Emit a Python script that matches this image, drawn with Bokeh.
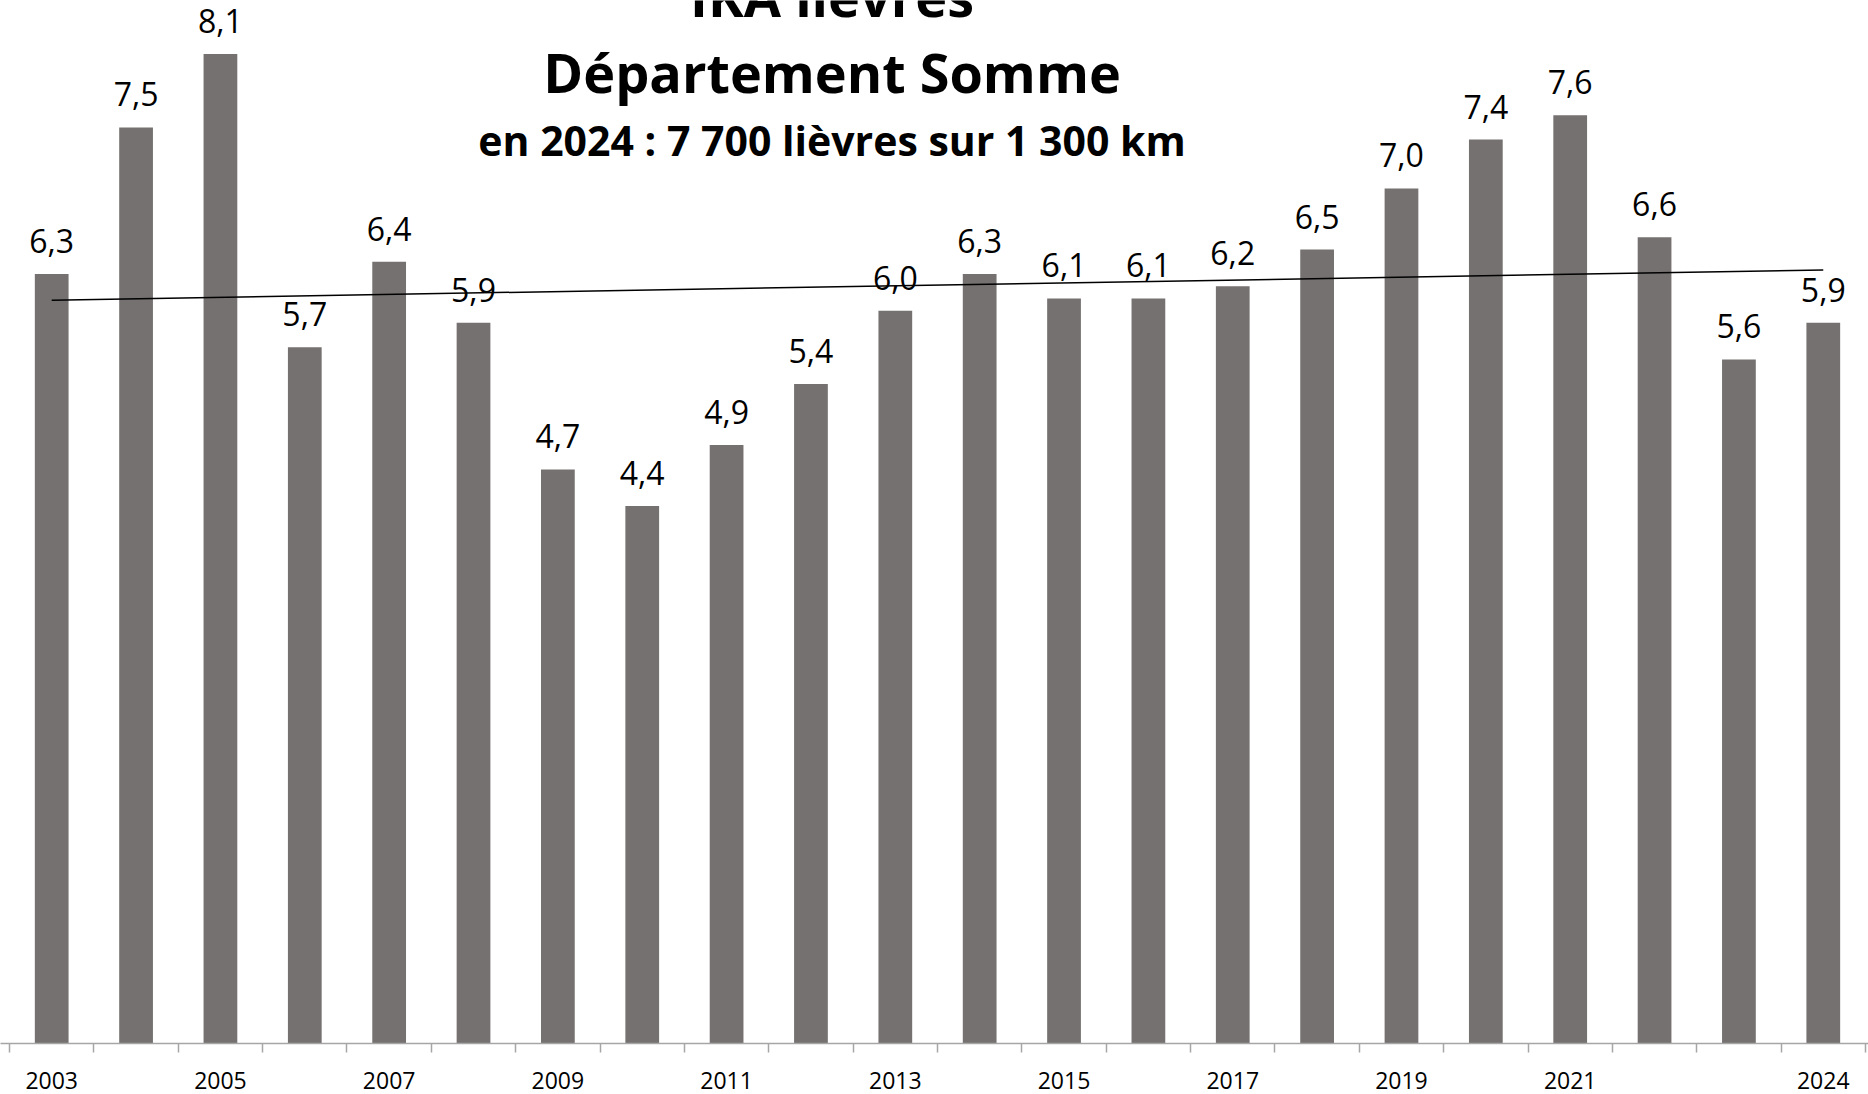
import numpy as np
from bokeh.plotting import figure
from bokeh.models import ColumnDataSource, FixedTicker, Range1d
from bokeh.core.properties import value
from bokeh.embed import file_html
from bokeh.resources import INLINE

years = list(range(2003, 2025))
ika = [6.3, 7.5, 8.1, 5.7, 6.4, 5.9, 4.7, 4.4, 4.9, 5.4, 6.0,
       6.3, 6.1, 6.1, 6.2, 6.5, 7.0, 7.4, 7.6, 6.6, 5.6, 5.9]
shown_years = [2003, 2005, 2007, 2009, 2011, 2013, 2015, 2017, 2019, 2021, 2024]
title_lines = ["IKA lièvres", "Département Somme", "en 2024 : 7 700 lièvres sur 1 300 km"]

labels = [f"{v:.1f}".replace(".", ",") for v in ika]
src = ColumnDataSource(dict(x=years, top=ika, lab=labels))

W, H = 1868, 1094
p = figure(width=W, height=H, output_backend="svg", toolbar_location=None,
           x_range=Range1d(2002.393, 2024.536), y_range=Range1d(0, 8.539),
           min_border_left=0, min_border_right=0, min_border_top=0,
           min_border_bottom=51)
p.outline_line_color = None
p.background_fill_color = "white"
p.border_fill_color = "white"
p.xgrid.visible = False
p.ygrid.visible = False
p.yaxis.visible = False

p.vbar(x="x", top="top", bottom=0, width=0.4, source=src,
       fill_color="#767171", line_color=None)

# linear trend
coef = np.polyfit(years, ika, 1)
tx = [years[0], years[-1]]
ty = list(np.polyval(coef, tx))
p.line(tx, ty, line_color="black", line_width=1.5)

p.text(x="x", y="top", text="lab", source=src, text_align="center",
       text_baseline="alphabetic", y_offset=-33,
       text_font=value("Open Sans"), text_font_size="32px", text_color="black")

ax = p.xaxis[0]
ax.ticker = FixedTicker(ticks=shown_years,
                        minor_ticks=[y - 0.5 for y in years] + [years[-1] + 0.5])
ax.axis_line_color = "#a6a6a6"
ax.axis_line_width = 1.5
ax.major_tick_out = 0
ax.major_tick_in = 0
ax.minor_tick_out = 9
ax.minor_tick_in = 0
ax.minor_tick_line_color = "#a6a6a6"
ax.minor_tick_line_width = 1.5
ax.major_label_text_font = "Open Sans"
ax.major_label_text_font_size = "23px"
ax.major_label_text_color = "black"
ax.major_label_standoff = 19
ax.major_label_overrides = {y: str(y) for y in shown_years}

for txt, yy, size, off in [(title_lines[0], 8.416, "54px", -20),
                           (title_lines[1], 7.785, "54px", -21),
                           (title_lines[2], 7.270, "41px", -16)]:
    p.text(x=[2012.25], y=[yy], text=[txt], text_align="center",
           text_baseline="alphabetic", y_offset=off,
           text_font=value("Open Sans"), text_font_style="bold",
           text_font_size=size, text_color="black")

open("out.html", "w").write(file_html(p, INLINE))
